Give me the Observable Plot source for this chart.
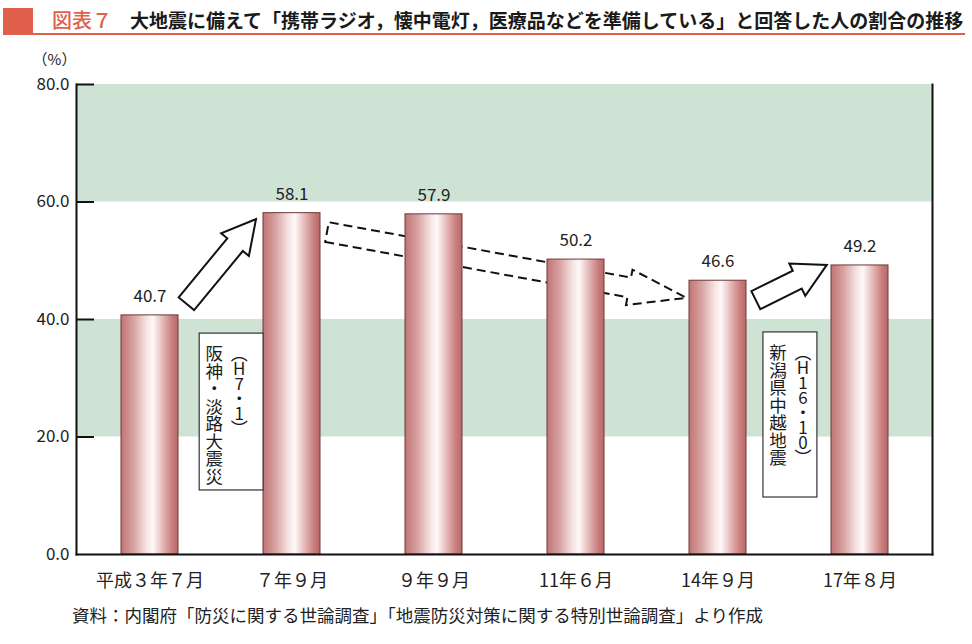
<!DOCTYPE html>
<html><head><meta charset="utf-8">
<script src="https://cdn.jsdelivr.net/npm/d3@7"></script>
<script src="https://cdn.jsdelivr.net/npm/@observablehq/plot@0.6"></script>
<style>
body{margin:0;background:#fff;font-family:"Noto Sans CJK JP",sans-serif;width:972px;height:644px;overflow:hidden;position:relative;}
#title{position:relative;height:44px;}
#title .blk{position:absolute;left:3px;top:8px;width:30px;height:27px;background:#e0604c;}
#title .rule{position:absolute;left:33px;top:33px;width:932px;height:2px;background:#e0604c;}
#title .num{position:absolute;left:52px;top:6px;font-size:20px;line-height:28px;color:#e0604c;font-weight:500;}
#title .txt{position:absolute;left:130px;top:6px;font-size:19px;line-height:28px;color:#1a1a1a;font-weight:700;white-space:nowrap;}
#chart{position:absolute;left:0;top:44px;}
#caption{position:absolute;left:72px;top:602px;font-size:17.5px;line-height:26px;color:#222;white-space:nowrap;}
.vtext{writing-mode:vertical-rl;text-orientation:upright;}
</style></head>
<body>
<div id="title"><div class="blk"></div><div class="rule"></div><div class="num">図表７</div><div class="txt">大地震に備えて「携帯ラジオ，懐中電灯，医療品などを準備している」と回答した人の割合の推移</div></div>
<div id="chart"></div>
<div id="caption">資料：内閣府「防災に関する世論調査」「地震防災対策に関する特別世論調査」より作成</div>
<script>
// ---- data ----
const categories = ["平成３年７月", "７年９月", "９年９月", "11年６月", "14年９月", "17年８月"];
const values = [40.7, 58.1, 57.9, 50.2, 46.6, 49.2];
const yTicks = [0, 20, 40, 60, 80];
const bandLow = [20, 60];
const bandHigh = [40, 80];
const unitLabel = ["（%）"];

// annotation arrows: [category index position, value]
const arrowFrom = [[0.26, 42.6], [1.25, 54.8], [4.27, 43.2]];
const arrowTo = [[0.75, 57.0], [3.78, 43.6], [4.77, 49.2]];
const arrowDashed = [false, true, false];

// annotation boxes (vertical text)
const noteX = [[0.35, 0.80], [4.32, 4.70]];
const noteY = [[37.6, 10.9], [37.8, 9.7]];
const noteEra = ["（H7・1）", "（H16・10）"];
const noteName = ["阪神・淡路大震災", "新潟県中越地震"];

const rows = categories.map((c, i) => ({cat: c, val: values[i]}));
const bands = bandLow.map((lo, i) => ({lo, hi: bandHigh[i]}));

function posHelpers(scales) {
  const xs = scales.x, ys = scales.y;
  const bw = typeof xs.bandwidth === "function" ? xs.bandwidth() : 0;
  const x0 = xs(categories[0]) + bw / 2;
  const step = xs(categories[1]) - xs(categories[0]);
  return {px: p => x0 + p * step, py: v => ys(v)};
}

function defsMark() {
  const defs = d3.create("svg:defs");
  const g = defs.append("linearGradient").attr("id", "barGrad").attr("x1", "0").attr("x2", "1").attr("y1", "0").attr("y2", "0");
  [[0, "#c07474"], [0.22, "#d8a2a2"], [0.45, "#f6e4e4"], [0.56, "#fff8f8"], [0.72, "#e6bcbc"], [0.9, "#c97c7c"], [1, "#bb6868"]]
    .forEach(([o, c]) => g.append("stop").attr("offset", o).attr("stop-color", c));
  return defs.node();
}

function arrowsMark(index, scales) {
  const {px, py} = posHelpers(scales);
  const g = d3.create("svg:g");
  arrowFrom.forEach((f, i) => {
    const t = arrowTo[i];
    const T = [px(f[0]), py(f[1])], P = [px(t[0]), py(t[1])];
    const dx = P[0] - T[0], dy = P[1] - T[1], L = Math.hypot(dx, dy);
    const u = [dx / L, dy / L], n = [-u[1], u[0]];
    const w = 20, hw = 36, hl = arrowDashed[i] ? 58 : 33;
    const B = [P[0] - u[0] * hl, P[1] - u[1] * hl];
    const pt = (b, s) => [b[0] + n[0] * s, b[1] + n[1] * s];
    const pts = [pt(T, w / 2), pt(B, w / 2), pt(B, hw / 2), P, pt(B, -hw / 2), pt(B, -w / 2), pt(T, -w / 2)];
    g.append("path")
      .attr("d", "M" + pts.map(p => p[0].toFixed(1) + "," + p[1].toFixed(1)).join("L") + "Z")
      .attr("fill", arrowDashed[i] ? "none" : "#fff")
      .attr("stroke", "#111")
      .attr("stroke-width", 2)
      .attr("stroke-linejoin", "miter")
      .attr("stroke-dasharray", arrowDashed[i] ? "9,5" : null);
  });
  return g.node();
}

function notesMark(index, scales) {
  const {px, py} = posHelpers(scales);
  const g = d3.create("svg:g").attr("text-anchor", "start");
  noteX.forEach((nx, i) => {
    const x1 = px(nx[0]), x2 = px(nx[1]), y1 = py(noteY[i][0]), y2 = py(noteY[i][1]);
    g.append("rect").attr("x", x1).attr("y", y1).attr("width", x2 - x1).attr("height", y2 - y1)
      .attr("fill", "#fff").attr("stroke", "#333").attr("stroke-width", 1.2);
    g.append("text").attr("class", "vtext").attr("text-anchor", "start").attr("x", x1 + 15).attr("y", y1 + 12)
      .attr("font-size", 17.5).attr("fill", "#1a1a1a").text(noteName[i]);
    g.append("text").attr("class", "vtext").attr("text-anchor", "start").attr("x", x1 + 40).attr("y", y1 + 12)
      .attr("font-size", 17).attr("letter-spacing", "-2px").attr("fill", "#1a1a1a").text(noteEra[i]);
  });
  return g.node();
}

const chart = Plot.plot({
  width: 972,
  height: 556,
  marginLeft: 76,
  marginRight: 40,
  marginTop: 40,
  marginBottom: 46,
  style: {fontFamily: "'Noto Sans CJK JP', sans-serif", fontSize: "16px", color: "#222", background: "transparent", overflow: "visible"},
  x: {domain: categories, paddingInner: 0.6, paddingOuter: 0.3, axis: null, label: null},
  y: {domain: [0, 80], axis: null, label: null},
  marks: [
    defsMark,
    Plot.rect(bands, {y1: "lo", y2: "hi", fill: "#cfe3d5"}),
    arrowsMark,
    Plot.barY(rows, {x: "cat", y: "val", fill: "url(#barGrad)", stroke: "#6e3838", strokeWidth: 1}),
    Plot.text(rows, {x: "cat", y: "val", text: d => d.val.toFixed(1), dy: -19, fontSize: 17, fill: "#222"}),
    notesMark,
    Plot.frame({anchor: "left", stroke: "#111", strokeWidth: 2}),
    Plot.frame({anchor: "right", stroke: "#111", strokeWidth: 2}),
    Plot.frame({anchor: "bottom", stroke: "#111", strokeWidth: 2}),
    Plot.tickY(yTicks.filter(d => d > 0), {y: d => d, insetRight: 838, stroke: "#111", strokeWidth: 2}),
    Plot.axisY({ticks: yTicks, tickFormat: d => d.toFixed(1), tickSize: 0, tickPadding: 7, fontSize: 17, fill: "#222"}),
    Plot.axisX({tickSize: 0, tickPadding: 20, fontSize: 18, fill: "#222"}),
    Plot.text(unitLabel, {frameAnchor: "top-left", textAnchor: "middle", lineAnchor: "middle", dx: -22, dy: -24, fontSize: 15, fill: "#222"})
  ]
});
document.getElementById("chart").appendChild(chart);
</script>
</body></html>
